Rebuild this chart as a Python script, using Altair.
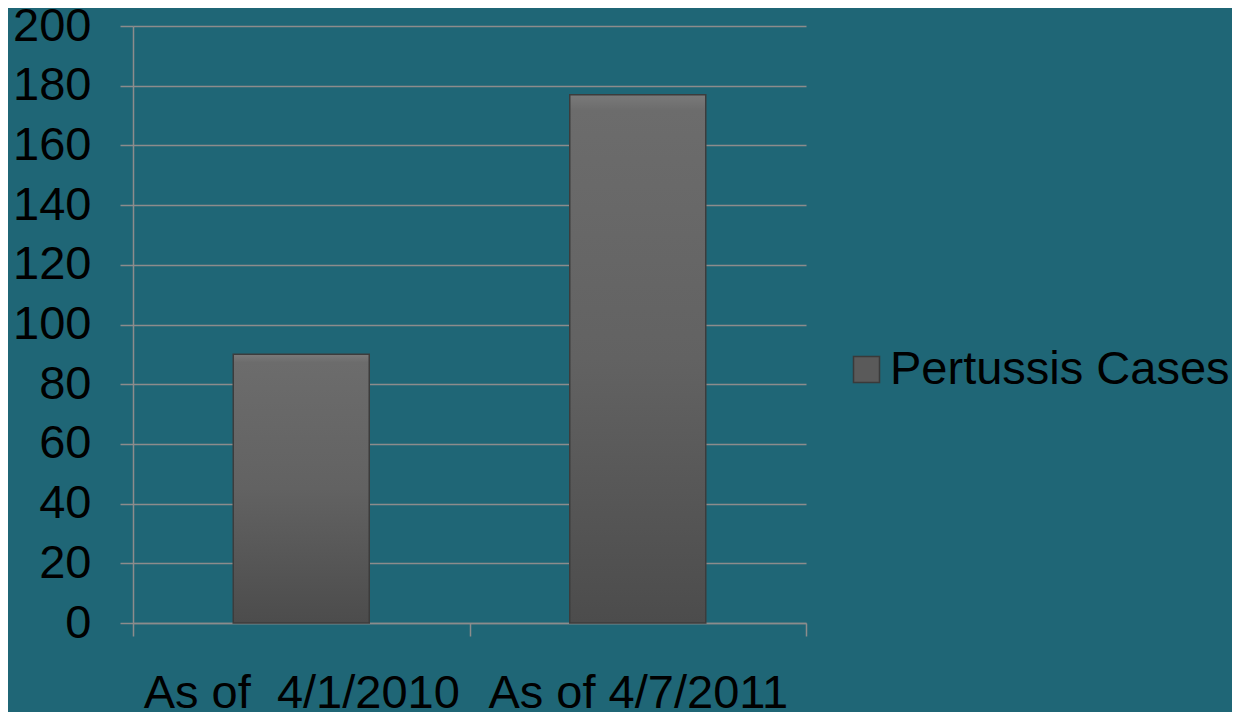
import altair as alt
import pandas as pd

categories = ["As of\u00a0\u00a04/1/2010", "As of 4/7/2011"]
values = [90, 177]
series = ["Pertussis Cases", "Pertussis Cases"]
y_ticks = [0, 20, 40, 60, 80, 100, 120, 140, 160, 180, 200]

df = pd.DataFrame({"cat": categories, "val": values, "series": series})

FONT = "Liberation Sans"
GRID = "#8c8c8c"
FS = 47

bar_fill = {
    "gradient": "linear", "x1": 0, "y1": 0, "x2": 0, "y2": 1,
    "stops": [
        {"offset": 0, "color": "#7a7a7a"},
        {"offset": 0.03, "color": "#6c6c6c"},
        {"offset": 0.5, "color": "#626262"},
        {"offset": 1, "color": "#4c4c4c"},
    ],
}

bars = alt.Chart(df).mark_bar(size=136, fill=bar_fill, stroke="#3c3c3c", strokeWidth=1.5).encode(
    x=alt.X("cat:N", sort=categories, title=None,
            scale=alt.Scale(paddingInner=0, paddingOuter=0),
            axis=alt.Axis(labelAngle=0, labelFontSize=FS, labelFont=FONT, labelColor="#000000",
                          labelPadding=34, tickSize=13, tickColor=GRID, tickBand="extent",
                          domainColor=GRID, domainWidth=1.5, tickWidth=1.5, grid=False,
                          labelLimit=500)),
    y=alt.Y("val:Q", title=None,
            scale=alt.Scale(domain=[0, 200], nice=False),
            axis=alt.Axis(values=y_ticks, labelFontSize=FS, labelFont=FONT, labelColor="#000000",
                          labelPadding=29, tickSize=13, tickColor=GRID, tickWidth=1.5,
                          domainColor=GRID, domainWidth=1.5, gridColor=GRID, gridWidth=1.5)),
    color=alt.Color("series:N", title=None,
                    scale=alt.Scale(range=["#5a5a5a"]),
                    legend=alt.Legend(orient="none", legendX=710, legendY=320,
                                      symbolType="square", symbolSize=676,
                                      symbolFillColor="#5a5a5a", symbolStrokeColor="#3a3a3a",
                                      symbolStrokeWidth=1.5,
                                      labelFontSize=FS, labelFont=FONT, labelColor="#000000",
                                      labelOffset=0, labelLimit=500)),
)

chart = bars.properties(
    width=673, height=597,
    background="#1f6676",
    padding={"left": 125, "top": 18, "right": 426, "bottom": 89},
    autosize=alt.AutoSizeParams(type="none"),
).configure_view(stroke=None).configure_axis(labelFont=FONT)

chart.save("out.html", embed_options={"renderer": "svg", "actions": False})
